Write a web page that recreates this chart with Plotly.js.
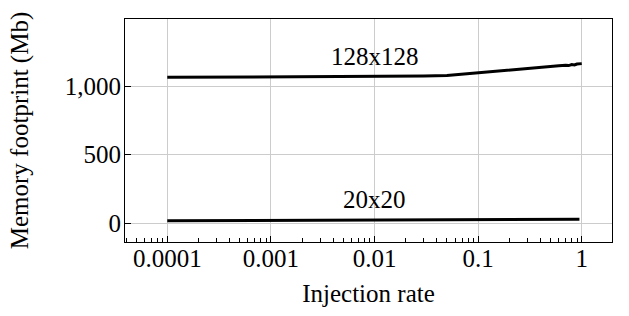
<!DOCTYPE html>
<html>
<head>
<meta charset="utf-8">
<script src="https://cdn.plot.ly/plotly-3.0.1.min.js"></script>
<style>html,body{margin:0;padding:0;background:#fff}#chart{width:629px;height:316px}</style>
</head>
<body>
<div id="chart"></div>
<script>
// Injection rate samples and memory footprint (Mb)
const rate128 = [0.0001, 0.001, 0.01, 0.02, 0.03, 0.05, 0.07, 0.1, 0.15, 0.2, 0.3, 0.4, 0.5, 0.6, 0.7, 0.75, 0.8, 0.85, 0.9, 1.0];
const mem128  = [1063, 1065, 1069, 1071, 1073, 1076, 1085, 1097, 1108, 1115, 1127, 1136, 1142, 1147, 1152, 1149, 1156, 1153, 1160, 1163];
const rate20 = [0.0001, 0.001, 0.01, 0.1, 0.5, 0.95];
const mem20  = [18, 20, 23, 27, 29, 30];
const seriesLabels = ["128x128", "20x20"];
const labelPos = [[0.01, 1213], [0.01, 170]];
const xTickVals = [0.0001, 0.001, 0.01, 0.1, 1];
const xTickText = ["0.0001", "0.001", "0.01", "0.1", "1"];
const yTickVals = [0, 500, 1000];
const yTickText = ["0", "500", "1,000"];

const FS = 25;
const font = {family: "Liberation Serif, Times New Roman, serif", color: "#000", size: FS};
const traces = [
  {x: rate128, y: mem128, mode: "lines", line: {color: "#000", width: 3}, name: seriesLabels[0]},
  {x: rate20, y: mem20, mode: "lines", line: {color: "#000", width: 3}, name: seriesLabels[1]}
];
const layout = {
  width: 629, height: 316,
  margin: {l: 125, r: 17, t: 19, b: 74},
  paper_bgcolor: "#fff", plot_bgcolor: "#fff",
  showlegend: false,
  font: font,
  xaxis: {
    type: "log", range: [-4.408, 0.292],
    tickvals: xTickVals, ticktext: xTickText,
    ticks: "inside", ticklen: 6, tickcolor: "#000",
    ticklabelstandoff: -6,
    showgrid: true, gridcolor: "#cccccc", gridwidth: 1,
    showline: true, linecolor: "#000", linewidth: 1, mirror: true,
    zeroline: false,
    minor: {ticks: "inside", ticklen: 4, tickcolor: "#000", dtick: "D1", showgrid: false},
    tickfont: font,
    automargin: true,
    title: {text: "Injection rate", font: font, standoff: 13}
  },
  yaxis: {
    range: [-136, 1488],
    tickvals: yTickVals, ticktext: yTickText,
    ticks: "inside", ticklen: 6, tickcolor: "#000",
    ticklabelstandoff: -2,
    showgrid: true, gridcolor: "#cccccc", gridwidth: 1,
    showline: true, linecolor: "#000", linewidth: 1, mirror: true,
    zeroline: false,
    tickfont: font,
    automargin: true,
    title: {text: "Memory footprint (Mb)", font: font, standoff: 29}
  },
  annotations: seriesLabels.map((t, i) => ({
    x: Math.log10(labelPos[i][0]), y: labelPos[i][1], xref: "x", yref: "y",
    text: t, showarrow: false, font: font
  }))
};
Plotly.newPlot("chart", traces, layout, {displayModeBar: false, staticPlot: true});
</script>
</body>
</html>
